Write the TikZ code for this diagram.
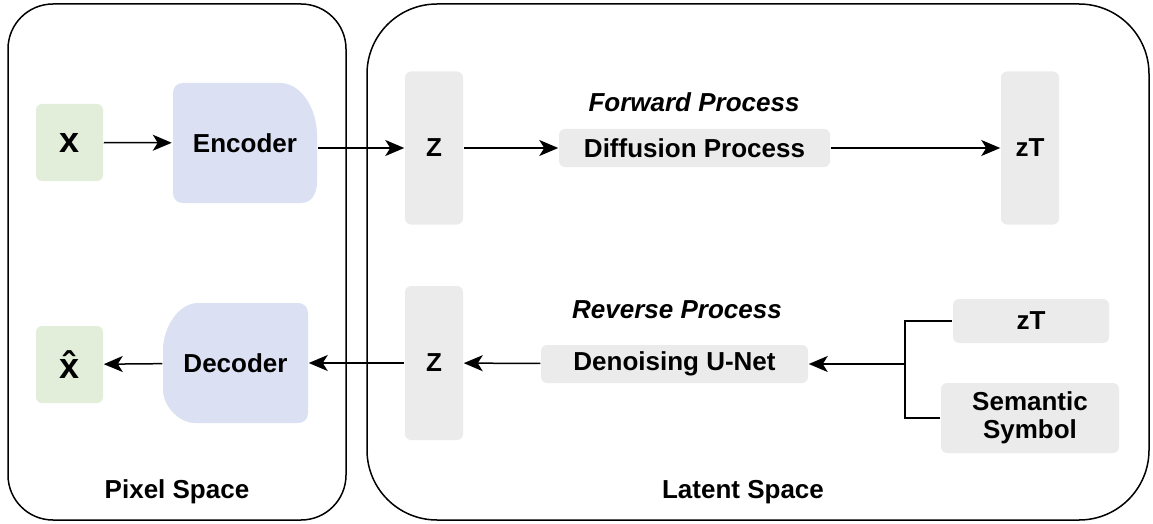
\documentclass[tikz,border=0pt]{standalone}
\usepackage{fontspec}
\setmainfont{Liberation Sans}
\usetikzlibrary{arrows.meta,backgrounds}
\definecolor{imggreen}{HTML}{E2EED9}
\definecolor{coderblue}{HTML}{DBE1F3}
\definecolor{latgray}{HTML}{EBEBEB}

\begin{document}
\begin{tikzpicture}[x=1pt, y=-1pt, line width=1.5pt, >={Stealth[length=19pt, width=16pt, inset=5pt]},
    every node/.style={font=\fontsize{26}{28}\selectfont\bfseries}]
  \tikzstyle{img}=[fill=imggreen, rounded corners=6pt, inner sep=0pt, minimum width=67pt, minimum height=77pt, font=\fontsize{36}{38}\selectfont\bfseries]
  \tikzstyle{lat}=[fill=latgray, rounded corners=6pt, inner sep=0pt, align=center]
  \tikzstyle{coder}=[inner sep=0pt, minimum width=145pt, minimum height=120pt]
  \useasboundingbox (0,0) rectangle (1153,524);

  % the two spaces
  \draw[rounded corners=45pt] (8,4) rectangle (346,520);
  \draw[rounded corners=70pt] (367,4) rectangle (1149,520);
  \node (pix) at (177,492) {Pixel Space};
  \node (lsp) at (743,492) {Latent Space};

  \node[img] (x)  at (69.5,142.5) {x};
  \node[img] (xh) at (69.5,364.5) {\^{x}};
  \node[coder] (enc) at (245,143) {Encoder};
  \node[coder] (dec) at (235.5,363) {Decoder};
  \begin{scope}[on background layer]
    \fill[coderblue] (183,83) -- (280,83) .. controls (302,83) and (317,110) .. (317,135)
      -- (317,182) .. controls (317,193) and (312,203) .. (301,203) -- (183,203)
      .. controls (177,203) and (173,199) .. (173,193) -- (173,93)
      .. controls (173,87) and (177,83) .. (183,83) -- cycle;
    \fill[coderblue] (298,303) -- (198,303) .. controls (178,303) and (163,328) .. (163,350)
      -- (163,390) .. controls (163,405) and (178,423) .. (195,423) -- (298,423)
      .. controls (304,423) and (308,419) .. (308,413) -- (308,313)
      .. controls (308,307) and (304,303) .. (298,303) -- cycle;
  \end{scope}

  \node[lat, minimum width=58pt, minimum height=153pt] (z1)  at (434,148)  {Z};
  \node[lat, minimum width=58pt, minimum height=153pt] (zt1) at (1030,148) {zT};
  \node[lat, minimum width=58pt, minimum height=154pt] (z2)  at (434,363)  {Z};
  \node[lat, minimum width=271pt, minimum height=38pt] (diff) at (694.5,148) {Diffusion Process};
  \node[lat, minimum width=267pt, minimum height=38pt] (den)  at (674.5,364) {Denoising U-Net};
  \node[lat, minimum width=156pt, minimum height=44pt] (zt2)  at (1031,321) {zT};
  \node[lat, minimum width=178pt, minimum height=70pt] (sem)  at (1030,418) {Semantic\\Symbol};
  \node (fwd) at (694,102) {\itshape Forward Process};
  \node (rev) at (677,310) {\itshape Reverse Process};

  \draw[->] (x) -- (enc);
  \draw[->] (enc.east |- z1) -- (z1);
  \draw[->] (z1) -- (diff);
  \draw[->] (diff) -- (zt1);

  \coordinate (j) at (905,364);
  \draw (zt2) -| (j);
  \draw (sem) -| (j);
  \draw[->] (j) -- (den);
  \draw[->] (den) -- (z2);
  \draw[->] (z2) -- (dec);
  \draw[->] (dec) -- (xh);
\end{tikzpicture}
\end{document}
